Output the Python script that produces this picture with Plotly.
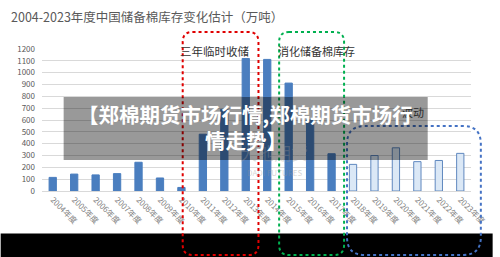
import plotly.graph_objects as go

years = ["2004年度", "2005年度", "2006年度", "2007年度", "2008年度", "2009年度", "2010年度",
         "2011年度", "2012年度", "2013年度", "2014年度", "2015年度", "2016年度", "2017年度",
         "2018年度", "2019年度", "2020年度", "2021年度", "2022年度", "2023年度"]
stock = [115, 143, 136, 147, 243, 110, 30, 480, 690, 1120, 1112, 912, 600, 315,
         225, 300, 365, 248, 258, 318]
phase = ["a"] * 14 + ["b"] * 6
y_ticks = [0, 100, 200, 300, 400, 500, 600, 700, 800, 900, 1000, 1100, 1200]

title_text = "2004-2023年度中国储备棉库存变化估计（万吨）"
box_labels = ["三年临时收储", "消化储备棉库存", "波动"]
banner_lines = ["【郑棉期货市场行情,郑棉期货市场行", "情走势】"]

W, H = 500, 257
L, R, T, B = 42, 22, 49, 66
PW, PH = W - L - R, H - T - B

def px(x):
    return (x - L) / PW

def py(y):
    return (T + PH - y) / PH

FONT = "Noto Sans CJK SC"

fill = ["#4a7ebf" if p == "a" else "#dbe8f6" for p in phase]
edge = ["#4a7ebf" if p == "a" else "#5f88bf" for p in phase]

fig = go.Figure(go.Bar(
    x=years, y=stock, width=0.34,
    marker=dict(color=fill, line=dict(color=edge, width=1)),
    hoverinfo="skip",
))

def rounded(x0, y0, x1, y1, r):
    a0, b0, a1, b1 = px(x0), py(y0), px(x1), py(y1)
    rx, ry = r / PW, r / PH
    return (f"M {a0+rx},{b0} L {a1-rx},{b0} Q {a1},{b0} {a1},{b0-ry} "
            f"L {a1},{b1+ry} Q {a1},{b1} {a1-rx},{b1} L {a0+rx},{b1} "
            f"Q {a0},{b1} {a0},{b1+ry} L {a0},{b0-ry} Q {a0},{b0} {a0+rx},{b0} Z")

shapes = [
    dict(type="rect", xref="paper", yref="paper", x0=px(0), x1=px(W), y0=py(233.5), y1=py(H + 2),
         fillcolor="black", line=dict(width=0), layer="above"),
    dict(type="path", xref="paper", yref="paper", path=rounded(185, 32, 262, 255, 10),
         line=dict(color="#e00000", width=2, dash="dot"), layer="above"),
    dict(type="path", xref="paper", yref="paper", path=rounded(283, 32, 349, 255, 10),
         line=dict(color="#00b050", width=2, dash="dot"), layer="above"),
    dict(type="path", xref="paper", yref="paper", path=rounded(352, 126, 488, 255, 18),
         line=dict(color="#4472c4", width=2, dash="dot"), layer="above"),
]

annotations = [
    dict(text=title_text, xref="paper", yref="paper", x=px(8), y=py(16), xanchor="left",
         yanchor="middle", showarrow=False, font=dict(family=FONT, size=12.5, color="#595959")),
    dict(text=box_labels[0], xref="paper", yref="paper", x=px(217), y=py(41),
         showarrow=False, font=dict(family=FONT, size=11.5, color="#333333")),
    dict(text=box_labels[1], xref="paper", yref="paper", x=px(321), y=py(41),
         showarrow=False, font=dict(family=FONT, size=11, color="#333333")),
    dict(text=box_labels[2], xref="paper", yref="paper", x=px(432), y=py(112), xanchor="right",
         showarrow=False, font=dict(family=FONT, size=11, color="#2a2a2a")),
    dict(text="大地期货", xref="paper", yref="paper", x=px(278), y=py(167),
         showarrow=False, font=dict(family=FONT, size=17, color="rgba(150,150,150,0.35)")),
    dict(text="DADI FUTURES", xref="paper", yref="paper", x=px(278), y=py(180),
         showarrow=False, font=dict(family=FONT, size=8, color="rgba(150,150,150,0.4)")),
]

banner = dict(type="rect", xref="paper", yref="paper", x0=px(64), x1=px(434), y0=py(97), y1=py(160),
              fillcolor="rgba(0,0,0,0.4)", line=dict(width=0), layer="above")
shapes.append(banner)

annotations += [
    dict(text=banner_lines[0], xref="paper", yref="paper", x=px(249), y=py(114),
         showarrow=False, font=dict(family=FONT, size=20.5, color="white", weight="bold")),
    dict(text=banner_lines[1], xref="paper", yref="paper", x=px(249), y=py(140),
         showarrow=False, font=dict(family=FONT, size=20.5, color="white", weight="bold")),
]

fig.update_layout(
    width=W, height=H,
    margin=dict(l=L, r=R, t=T, b=B),
    paper_bgcolor="white", plot_bgcolor="white",
    showlegend=False,
    shapes=shapes, annotations=annotations,
)
fig.update_xaxes(
    type="category", tickangle=45, showgrid=False,
    showline=True, linecolor="#d9d9d9", linewidth=1,
    ticks="", tickfont=dict(family=FONT, size=8, color="#7f7f7f"),
)
fig.update_yaxes(
    range=[0, 1200], tickvals=y_ticks, showgrid=True, gridcolor="#d9d9d9", gridwidth=1,
    zeroline=False, showline=False, ticks="",
    tickfont=dict(family=FONT, size=8, color="#595959"), ticklabelstandoff=6,
)

fig.write_html("out.html")
